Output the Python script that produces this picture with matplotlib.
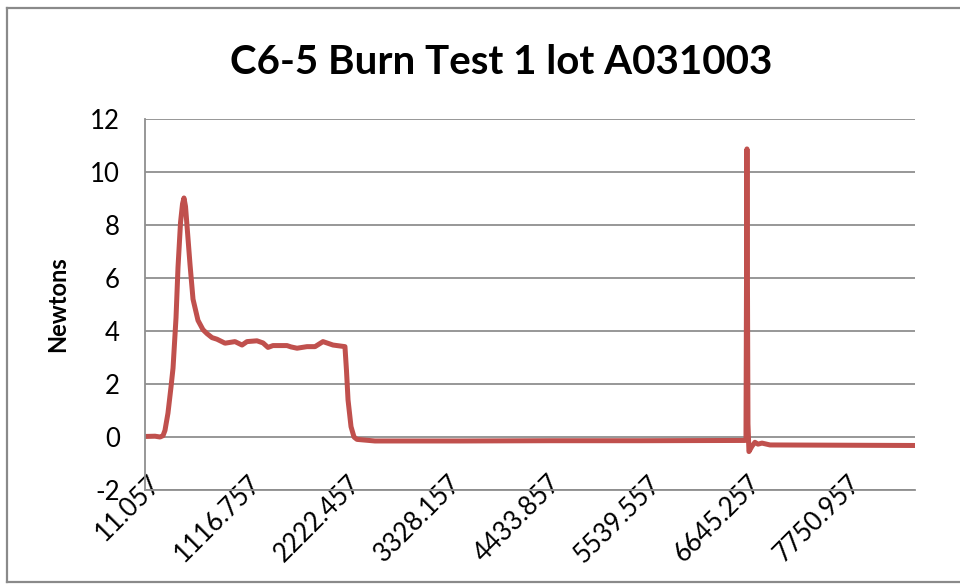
import matplotlib
matplotlib.use('Agg')
import matplotlib.pyplot as plt
import matplotlib.transforms as mtransforms
from matplotlib.lines import Line2D

plt.rcParams['axes.unicode_minus'] = False

# time (ms) and thrust (N)
time_ms = [11.057, 122, 177, 210, 232, 265, 299, 321, 354, 376, 404, 426, 442,
           459, 475, 509, 542, 597, 652, 697, 752, 807, 896, 1006, 1084, 1139,
           1249, 1316, 1371, 1426, 1581, 1625, 1692, 1802, 1891, 1979, 2090,
           2222, 2239, 2256, 2289, 2322, 2355, 2554, 3500, 4500, 5500, 6645,
           6656, 6667, 6678, 6689, 6722, 6755, 6789, 6833, 6922, 8503]
thrust_n = [0.02, 0.03, 0.0, 0.05, 0.25, 0.9, 1.9, 2.6, 4.5, 6.4, 8.1, 8.8, 9.02,
            8.7, 8.0, 6.5, 5.2, 4.4, 4.05, 3.9, 3.75, 3.69, 3.54, 3.60, 3.47, 3.60,
            3.63, 3.55, 3.38, 3.45, 3.45, 3.40, 3.35, 3.41, 3.41, 3.60, 3.47,
            3.41, 2.5, 1.4, 0.39, 0.0, -0.09, -0.15, -0.15, -0.14, -0.14, -0.13,
            -0.12, 10.87, 0.5, -0.55, -0.35, -0.2, -0.27, -0.23, -0.30, -0.32]

x_ticks = [11.057, 1116.757, 2222.457, 3328.157, 4433.857, 5539.557, 6645.257, 7750.957]
y_ticks = [-2, 0, 2, 4, 6, 8, 10, 12]

W, H = 960, 584
fig = plt.figure(figsize=(9.6, 5.84), dpi=100)
ax = fig.add_axes([145 / W, (H - 490) / H, 770 / W, 371 / H])

ax.plot(time_ms, thrust_n, color='#C0504D', lw=3.6, solid_joinstyle='round')

ax.set_xlim(11.057, 11.057 * 771)
ax.set_ylim(-2, 12)
ax.set_yticks(y_ticks)
ax.set_xticks(x_ticks)
ax.set_xticklabels([f'{v:.3f}' for v in x_ticks])
ax.grid(axis='y', color='#8f8f8f', lw=1.3)
ax.set_axisbelow(True)

for s in ['top', 'right']:
    ax.spines[s].set_visible(False)
for s in ['left', 'bottom']:
    ax.spines[s].set_color('#8f8f8f')
    ax.spines[s].set_linewidth(1.3)

ax.tick_params(axis='both', length=0, labelsize=18.5, labelcolor='black')
ax.tick_params(axis='y', pad=18)
ax.tick_params(axis='x', pad=0)
for lab in ax.get_yticklabels():
    lab.set_family('Lato')
shift = mtransforms.ScaledTranslation(3 / 100, 19 / 100, fig.dpi_scale_trans)
for lab in ax.get_xticklabels():
    lab.set_family('Lato')
    lab.set_rotation(45)
    lab.set_ha('right')
    lab.set_va('top')
    lab.set_rotation_mode('anchor')
    lab.set_transform(lab.get_transform() + shift)

fig.text(58 / W, 1 - 304 / H, 'Newtons', rotation=90, ha='center', va='center',
         fontsize=17, fontweight='bold', family='Lato')
fig.text(501 / W, 1 - 62 / H, 'C6-5 Burn Test 1 lot A031003', ha='center', va='center',
         fontsize=29, fontweight='bold', family='Lato')

# chart area border
bc = '#8a8a8a'
fig.add_artist(Line2D([7 / W, 7 / W], [1 - 582 / H, 1 - 8 / H], color=bc, lw=1.6))
fig.add_artist(Line2D([7 / W, 1.0], [1 - 8 / H, 1 - 8 / H], color=bc, lw=1.6))
fig.add_artist(Line2D([7 / W, 1.0], [1 - 582 / H, 1 - 582 / H], color=bc, lw=1.6))

fig.savefig('out.png', dpi=100)
